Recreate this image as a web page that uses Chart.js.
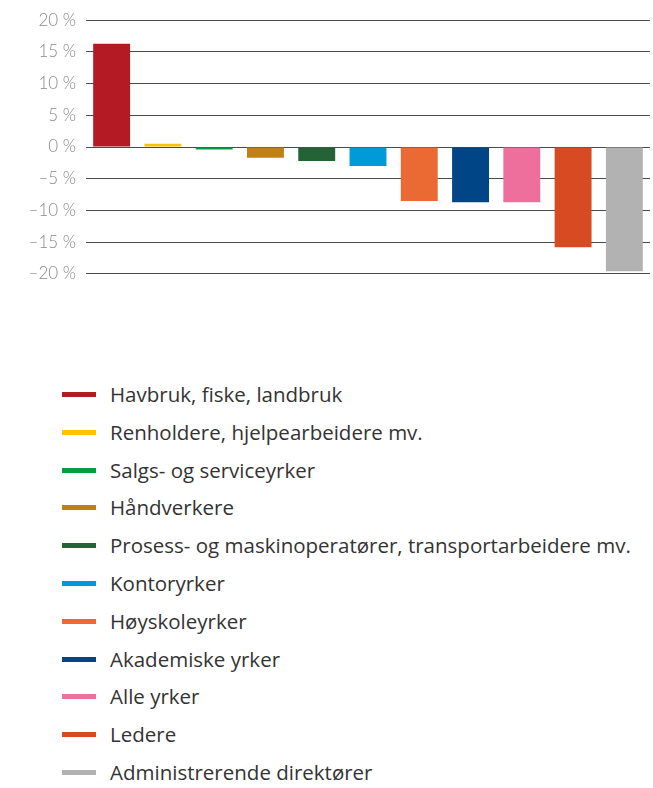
<!DOCTYPE html>
<html>
<head>
<meta charset="utf-8">
<script src="https://cdn.jsdelivr.net/npm/chart.js@4"></script>
<style>
  body { margin: 0; background: #fff; width: 653px; height: 788px; overflow: hidden; }
  #wrap { position: absolute; left: 0; top: 0; width: 653px; height: 294px; }
  #legend { position: absolute; left: 0; top: 376px; margin: 0; padding: 0; list-style: none; }
  #legend li { position: relative; height: 37.8px; line-height: 37.8px; font-family: 'Open Sans', sans-serif; font-size: 20.5px; color: #333; white-space: nowrap; }
  #legend li span.mark { position: absolute; left: 62px; top: 16px; width: 34px; height: 5px; }
  #legend li span.txt { position: absolute; left: 110px; top: 0; }
</style>
</head>
<body>
<div id="wrap"><canvas id="chart"></canvas></div>
<ul id="legend"></ul>
<script>
// occupational groups, change in percent
const groups = [
  'Havbruk, fiske, landbruk',
  'Renholdere, hjelpearbeidere mv.',
  'Salgs- og serviceyrker',
  'Håndverkere',
  'Prosess- og maskinoperatører, transportarbeidere mv.',
  'Kontoryrker',
  'Høyskoleyrker',
  'Akademiske yrker',
  'Alle yrker',
  'Ledere',
  'Administrerende direktører'
];
const change = [16.3, 0.5, -0.4, -1.7, -2.2, -3.0, -8.5, -8.7, -8.7, -15.8, -19.6];
const colors = ['#b41a24', '#fdc300', '#00a040', '#c08015', '#246335', '#009ad9',
                '#eb6a34', '#004686', '#ee6f9c', '#d64b21', '#b2b2b2'];
const yTicks = [-20, -15, -10, -5, 0, 5, 10, 15, 20];

function pct(v) {
  return (v < 0 ? '\u2013' : '') + Math.abs(v) + ' %';
}

// builds the list under the chart from the chart's own labels and colours
const htmlLegend = {
  id: 'htmlLegend',
  afterUpdate(chart) {
    const ul = document.getElementById('legend');
    ul.innerHTML = '';
    const ds = chart.data.datasets[0];
    chart.data.labels.forEach((lab, i) => {
      const li = document.createElement('li');
      const mark = document.createElement('span');
      mark.className = 'mark';
      mark.style.background = ds.backgroundColor[i];
      const txt = document.createElement('span');
      txt.className = 'txt';
      txt.textContent = lab;
      li.appendChild(mark);
      li.appendChild(txt);
      ul.appendChild(li);
    });
  }
};

const ctx = document.getElementById('chart');
new Chart(ctx, {
  type: 'bar',
  data: {
    labels: groups,
    datasets: [{
      data: change,
      backgroundColor: colors,
      borderWidth: 0,
      categoryPercentage: 0.72,
      barPercentage: 1
    }]
  },
  options: {
    responsive: true,
    maintainAspectRatio: false,
    animation: false,
    layout: { padding: { top: 20, bottom: 14, right: 3, left: 0 } },
    scales: {
      x: { display: false },
      y: {
        min: -20,
        max: 20,
        afterFit(scale) { scale.width = 86; },
        afterBuildTicks(scale) { scale.ticks = yTicks.map(v => ({ value: v })); },
        border: { display: false },
        grid: { color: '#4a4a4a', lineWidth: 1, drawTicks: false },
        ticks: {
          padding: 10,
          color: '#8a8a8a',
          font: { family: 'Lato', size: 17, weight: 300 },
          callback: v => pct(v)
        }
      }
    },
    plugins: {
      legend: { display: false },
      tooltip: { enabled: false }
    }
  },
  plugins: [htmlLegend]
});
</script>
</body>
</html>
